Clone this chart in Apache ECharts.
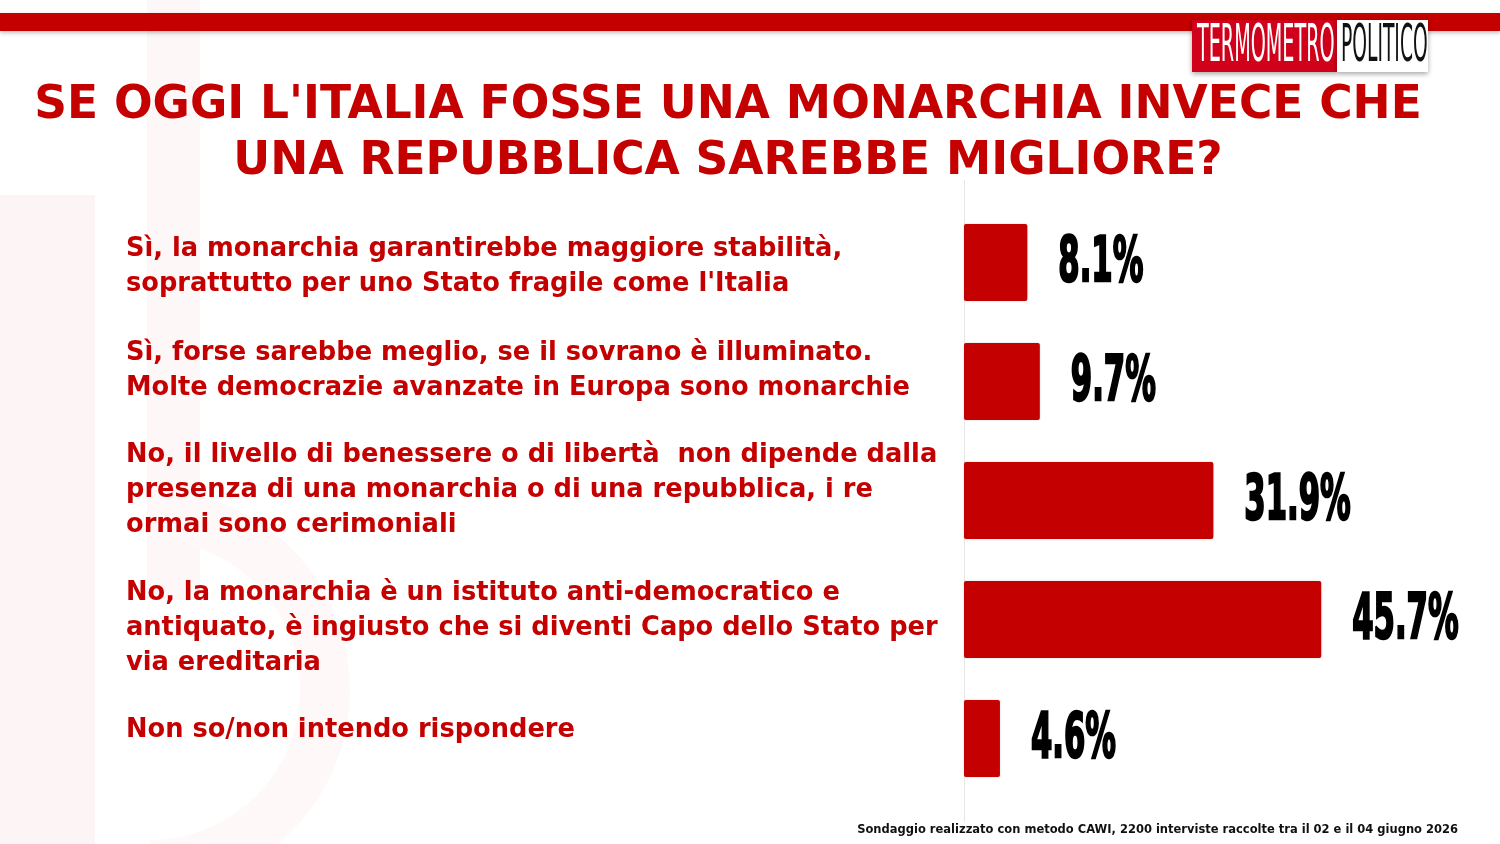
<!DOCTYPE html>
<html><head><meta charset="utf-8">
<script src="https://cdn.jsdelivr.net/npm/echarts@6/dist/echarts.min.js"></script>
<style>html,body{margin:0;padding:0;background:#fff;}#c{width:1500px;height:844px;}</style>
</head><body><div id="c"></div>
<script>
const categories = [
  "Sì, la monarchia garantirebbe maggiore stabilità,\nsoprattutto per uno Stato fragile come l'Italia",
  "Sì, forse sarebbe meglio, se il sovrano è illuminato.\nMolte democrazie avanzate in Europa sono monarchie",
  "No, il livello di benessere o di libertà  non dipende dalla\npresenza di una monarchia o di una repubblica, i re\normai sono cerimoniali",
  "No, la monarchia è un istituto anti-democratico e\nantiquato, è ingiusto che si diventi Capo dello Stato per\nvia ereditaria",
  "Non so/non intendo rispondere"
];
const values = [8.1, 9.7, 31.9, 45.7, 4.6];
// vertical nudge of each category label (px, negative = up)
const labelShift = [4, -11, -10, 9, -8];
const titleText = "SE OGGI L'ITALIA FOSSE UNA MONARCHIA INVECE CHE\nUNA REPUBBLICA SAREBBE MIGLIORE?";
const footerText = "Sondaggio realizzato con metodo CAWI, 2200 interviste raccolte tra il 02 e il 04 giugno 2026";

const RED = '#c40000';
const rich = { t: { color: RED, fontFamily: 'DejaVu Sans', fontWeight: 700, fontSize: 25.7, lineHeight: 35 } };
labelShift.forEach((s, i) => { rich['g' + i] = { fontSize: 1, lineHeight: Math.max(1, Math.abs(2 * s)), height: Math.max(1, Math.abs(2 * s)) }; });

const chart = echarts.init(document.getElementById('c'));
chart.setOption({
  backgroundColor: '#ffffff',
  animation: false,
  title: {
    text: titleText, left: 728, textAlign: 'center', top: 78, padding: 0,
    textStyle: { color: RED, fontFamily: 'DejaVu Sans', fontWeight: 700, fontSize: 45.5, lineHeight: 56 }
  },
  graphic: [
    { type: 'rect', shape: { x: 0, y: 195, width: 95, height: 649 }, style: { fill: '#fdf5f5' }, z: -10 },
    { type: 'rect', shape: { x: 147, y: 0, width: 53, height: 600 }, style: { fill: '#fdf7f7' }, z: -10 },
    { type: 'arc', shape: { cx: 150, cy: 690, r: 175, startAngle: -Math.PI / 2, endAngle: Math.PI / 2 }, style: { stroke: '#fef8f8', lineWidth: 50, fill: null }, z: -10 },
    { type: 'rect', shape: { x: 0, y: 13, width: 1500, height: 18 }, style: { fill: RED, shadowBlur: 4, shadowColor: 'rgba(0,0,0,0.25)', shadowOffsetY: 2 } },
    { type: 'rect', shape: { x: 1192, y: 20, width: 145, height: 52 }, style: { fill: '#d0021b', shadowBlur: 5, shadowColor: 'rgba(0,0,0,0.35)', shadowOffsetY: 2 } },
    { type: 'rect', shape: { x: 1337, y: 20, width: 91, height: 52 }, style: { fill: '#ffffff', shadowBlur: 5, shadowColor: 'rgba(0,0,0,0.35)', shadowOffsetY: 2 } },
    { type: 'text', x: 1197, y: 47, scaleX: 0.41, style: { text: 'TERMOMETRO', fill: '#ffffff', font: '400 52px "DejaVu Sans Condensed", sans-serif', verticalAlign: 'middle' } },
    { type: 'text', x: 1341, y: 47, scaleX: 0.40, style: { text: 'POLITICO', fill: '#111111', font: '400 52px "DejaVu Sans Condensed", sans-serif', verticalAlign: 'middle' } },
    { type: 'line', shape: { x1: 964.5, y1: 180, x2: 964.5, y2: 822 }, style: { stroke: '#e6e6e6', lineWidth: 1 } },
    { type: 'text', right: 42, top: 824, style: { text: footerText, fill: '#111111', font: '700 11.5px "DejaVu Sans", sans-serif' } }
  ],
  grid: { left: 964, top: 203, height: 595, width: 469, outerBoundsMode: 'none', containLabel: false },
  xAxis: { type: 'value', min: 0, max: 60, show: false },
  yAxis: {
    type: 'category', inverse: true, data: categories,
    axisLine: { show: false }, axisTick: { show: false },
    axisLabel: {
      align: 'left', margin: 838, rich: rich,
      formatter: (v, i) => {
        const body = v.split('\n').map(l => '{t|' + l + '}').join('\n');
        const s = labelShift[i];
        if (!s) return body;
        return s < 0 ? body + '\n{g' + i + '| }' : '{g' + i + '| }\n' + body;
      }
    }
  },
  series: [{
    type: 'bar', data: values, barWidth: 77,
    itemStyle: { color: RED, borderRadius: 2, shadowBlur: 2, shadowColor: 'rgba(0,0,0,0.2)' }
  }, {
    type: 'custom', data: values.map((v, i) => [v, i]),
    encode: { x: 0, y: 1 }, z: 5,
    renderItem: (params, api) => {
      const p = api.coord([api.value(0), api.value(1)]);
      return {
        type: 'text', x: p[0] + 31, y: p[1] + 2, scaleX: 0.55,
        style: {
          text: api.value(0).toFixed(1) + '%', x: 0, y: 0,
          font: '700 62px "DejaVu Sans Condensed", sans-serif',
          fill: '#000', align: 'left', verticalAlign: 'middle',
          stroke: '#000', lineWidth: 2.5,
          shadowColor: 'rgba(0,0,0,0.3)', shadowBlur: 2, shadowOffsetX: -1, shadowOffsetY: 1
        }
      };
    }
  }]
});
</script></body></html>
